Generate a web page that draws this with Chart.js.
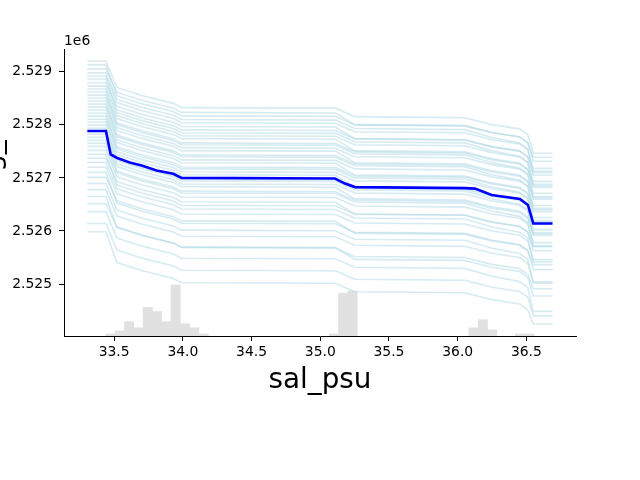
<!DOCTYPE html>
<html>
<head>
<meta charset="utf-8">
<script src="https://cdn.jsdelivr.net/npm/chart.js@4.4.1/dist/chart.umd.min.js"></script>
<style>
  html, body { margin: 0; padding: 0; background: #fff; }
  #wrap { width: 640px; height: 480px; }
</style>
</head>
<body>
<div id="wrap"><canvas id="grafico" width="640" height="480"></canvas></div>
<script>
/** DATOS **/
const xTicks = [33.5, 34.0, 34.5, 35.0, 35.5, 36.0, 36.5];
const yTicks = [2525000, 2526000, 2527000, 2528000, 2529000];

// grid of sal_psu where each ICE line is evaluated
const gridX = [33.305, 33.44, 33.52, 33.70, 33.93, 33.99, 35.11, 35.25, 36.05, 36.25, 36.45, 36.51, 36.55, 36.69];

// one row per individual curve
const iceLines = [
  [2529205,2529205,2528705,2528555,2528405,2528325,2528315,2528155,2528135,2528005,2527925,2527815,2527465,2527465],
  [2529130,2529130,2528550,2528400,2528250,2528170,2528160,2528000,2527980,2527850,2527770,2527660,2527390,2527390],
  [2529055,2529055,2528615,2528465,2528315,2528235,2528225,2528005,2527985,2527855,2527775,2527665,2527315,2527315],
  [2528980,2528980,2528480,2528330,2528180,2528100,2528090,2527930,2527910,2527760,2527660,2527550,2527100,2527100],
  [2528920,2528920,2528420,2528270,2528120,2528040,2528030,2527870,2527850,2527720,2527640,2527530,2527180,2527180],
  [2528865,2528865,2528285,2528135,2527985,2527905,2527895,2527735,2527715,2527585,2527505,2527395,2527125,2527125],
  [2528790,2528790,2528350,2528200,2528050,2527970,2527960,2527740,2527720,2527590,2527510,2527400,2527050,2527050],
  [2528730,2528730,2528230,2528080,2527930,2527850,2527840,2527680,2527660,2527510,2527410,2527300,2526850,2526850],
  [2528675,2528675,2528175,2528025,2527875,2527795,2527785,2527625,2527605,2527475,2527395,2527285,2526935,2526935],
  [2528620,2528620,2528040,2527890,2527740,2527660,2527650,2527490,2527470,2527340,2527260,2527150,2526880,2526880],
  [2528560,2528560,2528120,2527970,2527820,2527740,2527730,2527510,2527490,2527360,2527280,2527170,2526820,2526820],
  [2528505,2528505,2528005,2527855,2527705,2527625,2527615,2527455,2527435,2527285,2527185,2527075,2526625,2526625],
  [2528450,2528450,2527950,2527800,2527650,2527570,2527560,2527400,2527380,2527250,2527170,2527060,2526710,2526710],
  [2528390,2528390,2527810,2527660,2527510,2527430,2527420,2527260,2527240,2527110,2527030,2526920,2526650,2526650],
  [2528335,2528335,2527895,2527745,2527595,2527515,2527505,2527285,2527265,2527135,2527055,2526945,2526595,2526595],
  [2528280,2528280,2527780,2527630,2527480,2527400,2527390,2527230,2527210,2527060,2526960,2526850,2526400,2526400],
  [2528220,2528220,2527720,2527570,2527420,2527340,2527330,2527170,2527150,2527020,2526940,2526830,2526480,2526480],
  [2528165,2528165,2527585,2527435,2527285,2527205,2527195,2527035,2527015,2526885,2526805,2526695,2526425,2526425],
  [2528105,2528105,2527665,2527515,2527365,2527285,2527275,2527055,2527035,2526905,2526825,2526715,2526365,2526365],
  [2528050,2528050,2527550,2527400,2527250,2527170,2527160,2527000,2526980,2526830,2526730,2526620,2526170,2526170],
  [2527995,2527995,2527495,2527345,2527195,2527115,2527105,2526945,2526925,2526795,2526715,2526605,2526255,2526255],
  [2527935,2527935,2527355,2527205,2527055,2526975,2526965,2526805,2526785,2526655,2526575,2526465,2526195,2526195],
  [2527880,2527880,2527440,2527290,2527140,2527060,2527050,2526830,2526810,2526680,2526600,2526490,2526140,2526140],
  [2527825,2527825,2527325,2527175,2527025,2526945,2526935,2526775,2526755,2526605,2526505,2526395,2525945,2525945],
  [2527765,2527765,2527265,2527115,2526965,2526885,2526875,2526715,2526695,2526565,2526485,2526375,2526025,2526025],
  [2527710,2527710,2527130,2526980,2526830,2526750,2526740,2526580,2526560,2526430,2526350,2526240,2525970,2525970],
  [2527655,2527655,2527215,2527065,2526915,2526835,2526825,2526605,2526585,2526455,2526375,2526265,2525915,2525915],
  [2527595,2527595,2527095,2526945,2526795,2526715,2526705,2526545,2526525,2526375,2526275,2526165,2525715,2525715],
  [2527520,2527520,2527020,2526870,2526720,2526640,2526630,2526470,2526450,2526320,2526240,2526130,2525780,2525780],
  [2527445,2527445,2526865,2526715,2526565,2526485,2526475,2526315,2526295,2526165,2526085,2525975,2525705,2525705],
  [2527370,2527370,2526930,2526780,2526630,2526550,2526540,2526320,2526300,2526170,2526090,2525980,2525630,2525630],
  [2527295,2527295,2526795,2526645,2526495,2526415,2526405,2526245,2526225,2526075,2525975,2525865,2525415,2525415],
  [2527200,2527200,2526700,2526550,2526400,2526320,2526310,2526150,2526130,2526000,2525920,2525810,2525460,2525460],
  [2527105,2527105,2526525,2526375,2526225,2526145,2526135,2525975,2525955,2525825,2525745,2525635,2525365,2525365],
  [2527010,2527010,2526570,2526420,2526270,2526190,2526180,2525960,2525940,2525810,2525730,2525620,2525270,2525270],
  [2526895,2526895,2526395,2526245,2526095,2526015,2526005,2525845,2525825,2525675,2525575,2525465,2525015,2525015],
  [2526780,2526780,2526280,2526130,2525980,2525900,2525890,2525730,2525710,2525580,2525500,2525390,2525040,2525040],
  [2526650,2526650,2526070,2525920,2525770,2525690,2525680,2525520,2525500,2525370,2525290,2525180,2524910,2524910],
  [2526515,2526515,2526075,2525925,2525775,2525695,2525685,2525465,2525445,2525315,2525235,2525125,2524775,2524775],
  [2526365,2526365,2525865,2525715,2525565,2525485,2525475,2525315,2525295,2525145,2525045,2524935,2524485,2524485],
  [2526140,2526140,2525640,2525490,2525340,2525260,2525250,2525090,2525070,2524940,2524860,2524750,2524400,2524400],
  [2525985,2525985,2525405,2525255,2525105,2525025,2525015,2524855,2524835,2524705,2524625,2524515,2524245,2524245]
];

// average curve (bold blue)
const meanX = [33.305, 33.44, 33.475, 33.518, 33.613, 33.70, 33.809, 33.93, 33.991, 35.107, 35.18, 35.253, 36.053, 36.126, 36.247, 36.453, 36.511, 36.55, 36.69];
const meanY = [2527883, 2527883, 2527442, 2527380, 2527291, 2527234, 2527139, 2527077, 2527001, 2526988, 2526893, 2526827, 2526808, 2526798, 2526679, 2526603, 2526490, 2526141, 2526141];

// histogram of sal_psu (bin centres and counts)
const histX = [33.4734, 33.5412, 33.6089, 33.6766, 33.7444, 33.8121, 33.8799, 33.9476, 34.0154, 34.0831, 34.1508,
               35.0991, 35.1668, 35.2346, 36.1152, 36.1830, 36.2507, 36.4539, 36.5216];
const histCount = [1, 2.5, 7, 4, 14, 12, 7, 25, 6, 4, 1, 1, 21, 22, 4, 8, 3, 1, 1];

const xLabel = "sal_psu";
const yLabel = "northing_m";
const offsetText = "1e6";

/** GRAFICO **/
const FUENTE = "'DejaVu Sans', sans-serif";

const textosExtra = {
  id: 'textosExtra',
  afterDraw(chart) {
    const ctx = chart.ctx;
    const area = chart.chartArea;
    ctx.save();
    ctx.fillStyle = '#000';
    ctx.font = "13.9px " + FUENTE;
    ctx.textAlign = 'left';
    ctx.textBaseline = 'alphabetic';
    ctx.fillText(offsetText, area.left, 45);
    // y label sits mostly outside the figure, like in the original
    ctx.translate(0, (area.top + area.bottom) / 2);
    ctx.rotate(-Math.PI / 2);
    ctx.font = "27.8px " + FUENTE;
    ctx.textAlign = 'center';
    ctx.fillText(yLabel, 0, 0);
    ctx.restore();
  }
};

const datasets = [];

datasets.push({
  type: 'line',
  data: meanX.map((x, i) => ({ x: x, y: meanY[i] })),
  borderColor: '#0000ff',
  borderWidth: 2.6,
  pointRadius: 0,
  tension: 0,
  order: 0
});

iceLines.forEach(fila => {
  datasets.push({
    type: 'line',
    data: gridX.map((x, i) => ({ x: x, y: fila[i] })),
    borderColor: 'rgba(173,216,230,0.5)',
    borderWidth: 1.6,
    pointRadius: 0,
    tension: 0,
    order: 5
  });
});

datasets.push({
  type: 'bar',
  data: histX.map((x, i) => ({ x: x, y: histCount[i] })),
  yAxisID: 'y2',
  backgroundColor: '#e1e1e1',
  borderWidth: 0,
  barPercentage: 1,
  categoryPercentage: 1,
  order: 10
});

new Chart(document.getElementById('grafico'), {
  type: 'line',
  data: { datasets: datasets },
  plugins: [textosExtra],
  options: {
    responsive: false,
    animation: false,
    layout: { padding: { top: 49, left: 0, right: 64, bottom: 83 } },
    plugins: { legend: { display: false }, tooltip: { enabled: false } },
    scales: {
      x: {
        type: 'linear',
        min: 33.135,
        max: 36.861,
        offset: false,
        afterFit: s => { s.height = 61; },
        afterBuildTicks: s => { s.ticks = xTicks.map(v => ({ value: v })); },
        border: { display: true, color: '#000', width: 1 },
        grid: { offset: false, drawOnChartArea: false, drawTicks: true, tickLength: 5, color: '#000' },
        ticks: {
          color: '#000', font: { family: FUENTE, size: 13.9 }, padding: 3,
          autoSkip: false, maxRotation: 0,
          callback: v => Number(v).toFixed(1)
        },
        title: { display: true, text: xLabel, color: '#000', font: { family: FUENTE, size: 27.8 }, padding: 0 }
      },
      y: {
        type: 'linear',
        min: 2524020,
        max: 2529430,
        afterFit: s => { s.width = 64; },
        afterBuildTicks: s => { s.ticks = yTicks.map(v => ({ value: v })); },
        border: { display: true, color: '#000', width: 1 },
        grid: { drawOnChartArea: false, drawTicks: true, tickLength: 5, color: '#000' },
        ticks: {
          color: '#000', font: { family: FUENTE, size: 13.9 }, padding: 7,
          callback: v => (v / 1e6).toFixed(3)
        }
      },
      y2: {
        type: 'linear',
        display: false,
        min: 0,
        max: 140.7
      }
    }
  }
});
</script>
</body>
</html>
